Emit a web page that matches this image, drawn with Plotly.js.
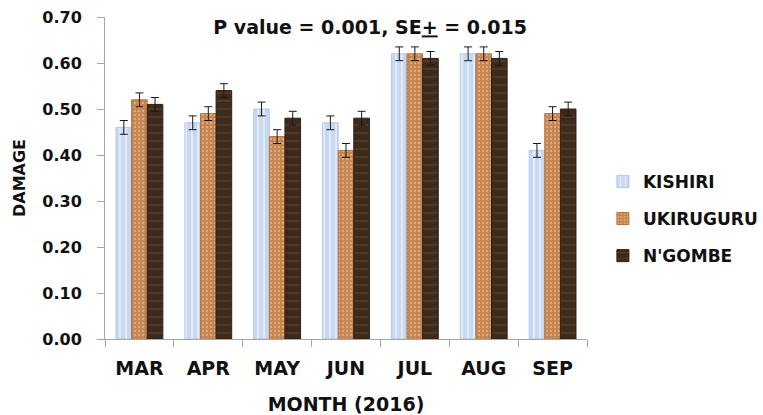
<!DOCTYPE html>
<html>
<head>
<meta charset="utf-8">
<script src="https://cdn.plot.ly/plotly-3.0.1.min.js"></script>
<style>html,body{margin:0;padding:0;background:#fff;}#chart{width:763px;height:415px;}</style>
</head>
<body>
<div id="chart"></div>
<script>
var months = ["MAR", "APR", "MAY", "JUN", "JUL", "AUG", "SEP"];
var kishiri = [0.46, 0.47, 0.50, 0.47, 0.62, 0.62, 0.41];
var ukiruguru = [0.52, 0.49, 0.44, 0.41, 0.62, 0.62, 0.49];
var ngombe = [0.51, 0.54, 0.48, 0.48, 0.61, 0.61, 0.50];
var se = 0.015;
var yTicks = [0, 0.1, 0.2, 0.3, 0.4, 0.5, 0.6, 0.7];

var FONT = "DejaVu Sans, sans-serif";

function mk(name, grp, y, color, lineColor, pattern) {
  return {
    type: "bar", name: name, legendgroup: grp, x: months, y: y,
    marker: {color: color, line: {color: lineColor, width: 1}, pattern: pattern},
    error_y: {type: "constant", value: se, visible: true, color: "#1a1a1a", thickness: 1, width: 4}
  };
}

var data = [
  mk("KISHIRI", "a", kishiri, "#c7d8f0", "#b4c8e4", {shape: "|", fgcolor: "#e4eefa", bgcolor: "#c7d8f0", size: 6, solidity: 0.3}),
  mk("UKIRUGURU", "b", ukiruguru, "#c98a55", "#b07442", {shape: ".", fgcolor: "#dfaa78", bgcolor: "#c48350", size: 4, solidity: 0.3}),
  mk("N'GOMBE", "c", ngombe, "#3f2b1d", "#2e1f14", {shape: "-", fgcolor: "#5a4230", bgcolor: "#3d2a1b", size: 8, solidity: 0.15})
];

var layout = {
  width: 763, height: 415,
  margin: {l: 105, r: 176, t: 17, b: 76, autoexpand: false},
  paper_bgcolor: "#ffffff", plot_bgcolor: "#ffffff",
  barmode: "group", bargap: 0.32, bargroupgap: 0,
  font: {family: FONT, color: "#111111"},
  title: {text: "<b>P value = 0.001, SE<u>+</u> = 0.015</b>", font: {size: 19, family: FONT, color: "#111"},
          x: 0.55, xref: "paper", xanchor: "center", y: 0.933, yref: "container", yanchor: "middle"},
  xaxis: {
    showgrid: false, showline: true, linecolor: "#a6a6a6", linewidth: 1,
    ticks: "outside", tickson: "boundaries", ticklen: 7, tickcolor: "#a6a6a6",
    ticklabelstandoff: 12,
    tickfont: {size: 19, family: FONT, color: "#111", weight: "bold"},
    title: {text: "<b>MONTH (2016)</b>", font: {size: 19, family: FONT, color: "#111"}, standoff: 20}
  },
  yaxis: {
    range: [0, 0.7], tickvals: yTicks, tickformat: ".2f",
    showgrid: false, zeroline: false, showline: true, linecolor: "#a6a6a6", linewidth: 1,
    ticks: "outside", ticklen: 7, tickcolor: "#a6a6a6",
    ticklabelstandoff: 12,
    tickfont: {size: 16, family: FONT, color: "#111", weight: "bold"},
    title: {text: "<b>DAMAGE</b>", font: {size: 16, family: FONT, color: "#111"}, standoff: 12}
  },
  legend: {x: 1.033, xanchor: "left", xref: "paper", y: 0.373, yanchor: "middle", yref: "paper",
           font: {size: 17, family: FONT, color: "#111", weight: "bold"}, tracegroupgap: 12, itemwidth: 30,
           bgcolor: "rgba(0,0,0,0)"},
  showlegend: true
};
Plotly.newPlot("chart", data, layout, {staticPlot: true});
</script>
</body>
</html>
